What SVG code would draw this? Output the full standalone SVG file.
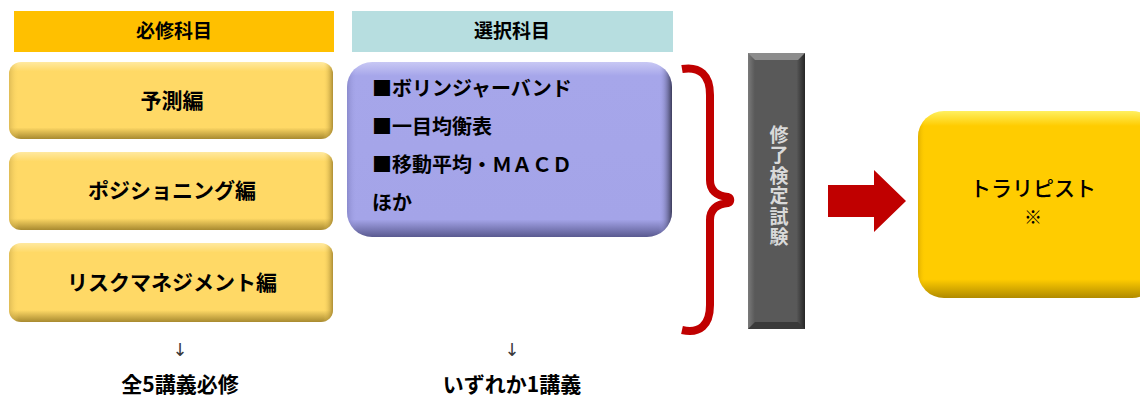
<svg xmlns="http://www.w3.org/2000/svg" width="1140" height="396" viewBox="0 0 1140 396">
<defs>
<style>
.t{font-family:"Noto Sans CJK JP","Liberation Sans",sans-serif;font-weight:bold;fill:#000}
.h{font-size:19px;text-anchor:middle}
.b{font-size:21px;text-anchor:middle}
.p{font-size:20px}
.n{font-weight:500}
.ar{font-family:"DejaVu Sans","Liberation Sans",sans-serif;font-size:18px;font-weight:normal;fill:#3A3A3A;text-anchor:middle}
.v{font-size:19px;fill:#D9D9D9;writing-mode:vertical-rl;text-orientation:upright;letter-spacing:1.5px}
</style>
<linearGradient id="gy" x1="0" y1="0" x2="0" y2="1">
<stop offset="0" stop-color="#FFE9A0"/><stop offset="0.12" stop-color="#FFD966"/><stop offset="0.85" stop-color="#FFD966"/><stop offset="1" stop-color="#A88A30"/>
</linearGradient>
<linearGradient id="gyx" x1="0" y1="0" x2="1" y2="0">
<stop offset="0" stop-color="#C9A84A" stop-opacity="0.6"/><stop offset="0.03" stop-color="#FFD966" stop-opacity="0"/><stop offset="0.97" stop-color="#FFD966" stop-opacity="0"/><stop offset="1" stop-color="#8A6E20" stop-opacity="0.7"/>
</linearGradient>
<linearGradient id="gp" x1="0" y1="0" x2="0" y2="1">
<stop offset="0" stop-color="#C8C8F4"/><stop offset="0.08" stop-color="#A6A6EA"/><stop offset="0.9" stop-color="#A4A4E8"/><stop offset="1" stop-color="#5A5A90"/>
</linearGradient>
<linearGradient id="gpx" x1="0" y1="0" x2="1" y2="0">
<stop offset="0" stop-color="#7070B0" stop-opacity="0.5"/><stop offset="0.03" stop-color="#A4A4E8" stop-opacity="0"/><stop offset="0.96" stop-color="#A4A4E8" stop-opacity="0"/><stop offset="1" stop-color="#30304A" stop-opacity="0.9"/>
</linearGradient>
<linearGradient id="gg" x1="0" y1="0" x2="1" y2="0">
<stop offset="0" stop-color="#7A7A7A"/><stop offset="0.12" stop-color="#595959"/><stop offset="0.85" stop-color="#595959"/><stop offset="1" stop-color="#262626"/>
</linearGradient>
<linearGradient id="go" x1="0" y1="0" x2="0" y2="1">
<stop offset="0" stop-color="#FFF060"/><stop offset="0.08" stop-color="#FFCC00"/><stop offset="0.9" stop-color="#FFCC00"/><stop offset="1" stop-color="#B08A00"/>
</linearGradient>
<linearGradient id="gox" x1="0" y1="0" x2="1" y2="0">
<stop offset="0" stop-color="#C89A00" stop-opacity="0.6"/><stop offset="0.03" stop-color="#FFCC00" stop-opacity="0"/><stop offset="1" stop-color="#FFCC00" stop-opacity="0"/>
</linearGradient>
</defs>

<g id="hdr-required">
<rect x="14" y="11" width="320" height="41" fill="#FFC000"/>
<text class="t h" x="174" y="38">必修科目</text>
</g>
<g id="hdr-elective">
<rect x="352" y="11" width="321" height="41" fill="#B7DEE0"/>
<text class="t h" x="512" y="38">選択科目</text>
</g>

<g id="req-1">
<rect x="9" y="62" width="324" height="77" rx="12" fill="url(#gy)"/>
<rect x="9" y="62" width="324" height="77" rx="12" fill="url(#gyx)"/>
<text class="t b" x="172" y="108">予測編</text>
</g>
<g id="req-2">
<rect x="9" y="152" width="324" height="78" rx="12" fill="url(#gy)"/>
<rect x="9" y="152" width="324" height="78" rx="12" fill="url(#gyx)"/>
<text class="t b" x="172" y="198">ポジショニング編</text>
</g>
<g id="req-3">
<rect x="9" y="243" width="324" height="79" rx="12" fill="url(#gy)"/>
<rect x="9" y="243" width="324" height="79" rx="12" fill="url(#gyx)"/>
<text class="t b" x="172" y="290">リスクマネジメント編</text>
</g>

<g id="elective">
<rect x="347" y="62" width="325" height="175" rx="25" fill="url(#gp)"/>
<rect x="347" y="62" width="325" height="175" rx="25" fill="url(#gpx)"/>
<text class="t p" x="372" y="96">■ボリンジャーバンド</text>
<text class="t p" x="372" y="134">■一目均衡表</text>
<text class="t p" x="372" y="172">■移動平均・ＭＡＣＤ</text>
<text class="t p" x="372" y="210">ほか</text>
</g>

<g id="connectors">
<path d="M682,69 C700,66 710,75 710,95 L710,180 C710,190 716,196 728,197 C731,198 731,202 728,203 C716,204 710,210 710,220 L710,305 C710,325 700,334 682,330" fill="none" stroke="#C00000" stroke-width="8"/>
<polygon points="828,185 874,185 874,170 906,201 874,232 874,217 828,217" fill="#C00000"/>
<text class="ar" x="180" y="356">↓</text>
<text class="ar" x="512" y="356">↓</text>
</g>

<g id="exam">
<rect x="748" y="53" width="57" height="276" fill="url(#gg)"/>
<polygon points="748,53 805,53 798,60 755,60" fill="#8C8C8C"/>
<polygon points="748,329 805,329 798,322 755,322" fill="#3A3A3A"/>
<text class="t v" x="779" y="125">修了検定試験</text>
</g>

<g id="trallipist">
<rect x="918" y="111" width="240" height="187" rx="26" fill="url(#go)"/>
<rect x="918" y="111" width="240" height="187" rx="26" fill="url(#gox)"/>
<text class="t b n" x="1033" y="196">トラリピスト</text>
<text class="t b n" x="1033" y="224" style="font-size:18px">※</text>
</g>

<g id="notes">
<text class="t b" x="180" y="392">全5講義必修</text>
<text class="t b" x="512" y="392">いずれか1講義</text>
</g>
</svg>
